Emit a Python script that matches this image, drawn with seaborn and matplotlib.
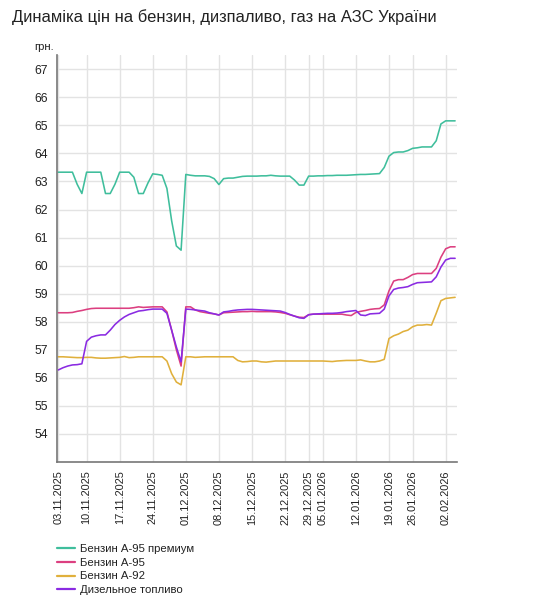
import pandas as pd
import numpy as np
import matplotlib
matplotlib.use("Agg")
import matplotlib.pyplot as plt
import seaborn as sns

# ─────────────────────────────────────────────
# Données
# ─────────────────────────────────────────────
start_date = "2025-11-03"
end_date = "2026-02-04"
# jours sans relevé
skipped_dates = ["2025-11-09", "2025-12-27", "2025-12-28", "2025-12-31",
                 "2026-01-01", "2026-01-02", "2026-01-03", "2026-01-24", "2026-01-25"]

tick_dates = ["2025-11-03", "2025-11-10", "2025-11-17", "2025-11-24", "2025-12-01",
              "2025-12-08", "2025-12-15", "2025-12-22", "2025-12-29", "2026-01-05",
              "2026-01-12", "2026-01-19", "2026-01-26", "2026-02-02"]

series_names = ["Бензин А-95 премиум", "Бензин А-95", "Бензин А-92", "Дизельное топливо"]
series_colors = ["#3fbe9c", "#dc3f80", "#e0b03c", "#8a2be2"]

a95_premium = [
    63.33, 63.33, 63.33, 63.33, 62.90, 62.57, 63.33, 63.33, 63.33, 63.33,
    62.57, 62.57, 62.90, 63.33, 63.33, 63.33, 63.15, 62.57, 62.57, 62.95,
    63.27, 63.25, 63.22, 62.75, 61.60, 60.70, 60.55, 63.25, 63.22, 63.20,
    63.20, 63.20, 63.18, 63.10, 62.89, 63.10, 63.12, 63.12, 63.15, 63.18,
    63.19, 63.19, 63.19, 63.20, 63.20, 63.22, 63.20, 63.19, 63.19, 63.19,
    63.05, 62.87, 62.87, 63.19, 63.19, 63.20, 63.20, 63.21, 63.21, 63.22,
    63.22, 63.22, 63.23, 63.24, 63.25, 63.25, 63.26, 63.27, 63.28, 63.50,
    63.90, 64.03, 64.05, 64.05, 64.10, 64.18, 64.20, 64.23, 64.23, 64.23,
    64.45, 65.05, 65.16, 65.16, 65.16,
]

a95 = [
    58.32, 58.32, 58.32, 58.33, 58.37, 58.40, 58.44, 58.47, 58.48, 58.48,
    58.48, 58.48, 58.48, 58.48, 58.48, 58.48, 58.50, 58.53, 58.51, 58.52,
    58.53, 58.53, 58.53, 58.35, 57.70, 57.00, 56.42, 58.53, 58.53, 58.42,
    58.36, 58.33, 58.30, 58.28, 58.24, 58.32, 58.33, 58.34, 58.35, 58.36,
    58.36, 58.37, 58.36, 58.36, 58.36, 58.36, 58.35, 58.33, 58.30, 58.25,
    58.20, 58.16, 58.15, 58.25, 58.27, 58.27, 58.27, 58.27, 58.27, 58.27,
    58.27, 58.24, 58.22, 58.33, 58.37, 58.40, 58.44, 58.46, 58.47, 58.60,
    59.10, 59.45, 59.50, 59.50, 59.58, 59.68, 59.72, 59.72, 59.72, 59.72,
    59.90, 60.30, 60.60, 60.67, 60.67,
]

a92 = [
    56.75, 56.75, 56.74, 56.73, 56.72, 56.72, 56.73, 56.73, 56.71, 56.70,
    56.70, 56.71, 56.72, 56.73, 56.76, 56.72, 56.73, 56.75, 56.75, 56.75,
    56.75, 56.75, 56.75, 56.60, 56.15, 55.85, 55.75, 56.75, 56.75, 56.73,
    56.74, 56.75, 56.75, 56.75, 56.75, 56.75, 56.75, 56.75, 56.62, 56.57,
    56.58, 56.60, 56.60, 56.57, 56.56, 56.58, 56.60, 56.60, 56.60, 56.60,
    56.60, 56.60, 56.60, 56.60, 56.60, 56.60, 56.60, 56.59, 56.58, 56.60,
    56.61, 56.62, 56.62, 56.62, 56.64, 56.60, 56.57, 56.57, 56.60, 56.66,
    57.40, 57.50, 57.56, 57.65, 57.70, 57.82, 57.88, 57.88, 57.90, 57.88,
    58.30, 58.75, 58.83, 58.85, 58.87,
]

diesel = [
    56.28, 56.36, 56.42, 56.46, 56.47, 56.50, 57.30, 57.45, 57.50, 57.53,
    57.53, 57.70, 57.90, 58.05, 58.17, 58.26, 58.32, 58.38, 58.40, 58.43,
    58.45, 58.45, 58.45, 58.30, 57.70, 57.10, 56.57, 58.45, 58.44, 58.42,
    58.40, 58.38, 58.32, 58.28, 58.24, 58.35, 58.37, 58.40, 58.42, 58.43,
    58.44, 58.44, 58.43, 58.42, 58.41, 58.40, 58.39, 58.38, 58.33, 58.26,
    58.20, 58.14, 58.12, 58.25, 58.27, 58.28, 58.29, 58.30, 58.30, 58.31,
    58.33, 58.36, 58.38, 58.40, 58.24, 58.22, 58.28, 58.29, 58.30, 58.45,
    58.92, 59.15, 59.20, 59.22, 59.25, 59.33, 59.39, 59.40, 59.41, 59.42,
    59.60, 59.95, 60.20, 60.26, 60.26,
]

# ─────────────────────────────────────────────
# Mise en forme des données
# ─────────────────────────────────────────────
dates = pd.date_range(start_date, end_date)
dates = dates[~dates.isin(pd.to_datetime(skipped_dates))]

frames = []
for name, values in zip(series_names, [a95_premium, a95, a92, diesel]):
    frames.append(pd.DataFrame({"idx": np.arange(len(dates)), "date": dates,
                                "price": values, "fuel": name}))
df = pd.concat(frames, ignore_index=True)

tick_pos = [dates.get_loc(pd.Timestamp(d)) for d in tick_dates]
tick_labels = [pd.Timestamp(d).strftime("%d.%m.%Y") for d in tick_dates]

# ─────────────────────────────────────────────
# Graphique
# ─────────────────────────────────────────────
sns.set_style("white")
plt.rcParams["font.family"] = ["Liberation Sans", "DejaVu Sans"]

fig = plt.figure(figsize=(5.39, 6.0), dpi=100)
ax = fig.add_axes([0.105, 0.23, 0.742, 0.678])

sns.lineplot(data=df, x="idx", y="price", hue="fuel", hue_order=series_names,
             palette=dict(zip(series_names, series_colors)), sort=False,
             estimator=None, linewidth=1.15, ax=ax, legend=False)

ax.set_xlim(-0.35, len(dates) - 1 + 0.3)
ax.set_ylim(53, 67.5)
ax.set_yticks(range(54, 68))
ax.set_xticks(tick_pos)
ax.set_xticklabels(tick_labels, rotation=90)
ax.tick_params(axis="both", direction="out", length=4, width=1, color="#777777",
               labelcolor="#222222", pad=2)
ax.tick_params(axis="x", labelsize=7.9)
ax.tick_params(axis="y", labelsize=8.8)
ax.grid(True, color="#e3e3e3", linewidth=1)
ax.set_axisbelow(True)
ax.set_xlabel("")
ax.set_ylabel("")
for side in ["top", "right"]:
    ax.spines[side].set_visible(False)
for side in ["left", "bottom"]:
    ax.spines[side].set_color("#777777")
    ax.spines[side].set_linewidth(1.2)

fig.text(0.022, 0.972, "Динаміка цін на бензин, дизпаливо, газ на АЗС України",
         ha="left", va="center", fontsize=11.9, color="#222222")
fig.text(0.064, 0.922, "грн.", ha="left", va="center", fontsize=8.2, color="#222222")

handles = [plt.Line2D([], [], color=c, linewidth=1.6) for c in series_colors]
fig.legend(handles, series_names, loc="upper left", bbox_to_anchor=(0.106, 0.093),
           frameon=False, fontsize=8.2, handlelength=1.55, handletextpad=0.45,
           labelspacing=0.32, borderpad=0, borderaxespad=0, labelcolor="#222222")

fig.savefig("out.png", dpi=100)
